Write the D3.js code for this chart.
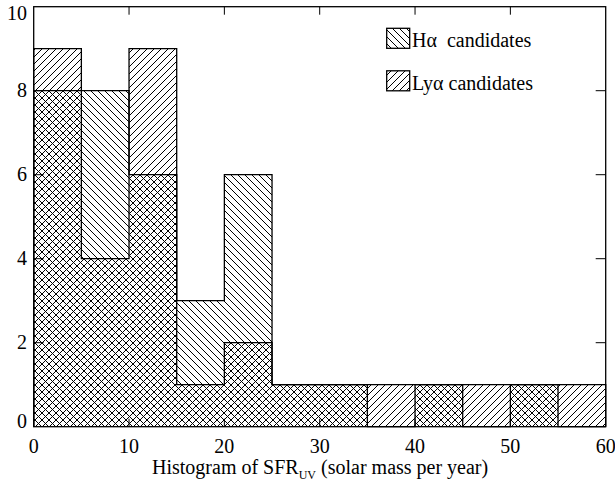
<!DOCTYPE html>
<html>
<head>
<meta charset="utf-8">
<script src="https://cdn.jsdelivr.net/npm/d3@7"></script>
<style>
  body { margin: 0; background: #fff; }
</style>
</head>
<body>
<svg id="chart" width="615" height="481"></svg>
<script>
// bin edges of the histogram (SFR_UV, solar mass per year)
var binEdges = [0, 5, 10, 15, 20, 25, 30, 35, 40, 45, 50, 55, 60];
// counts per bin
var haCounts  = [8, 8, 6, 3, 6, 1, 1, 0, 1, 0, 1, 0];
var lyaCounts = [9, 4, 9, 1, 2, 1, 1, 1, 1, 1, 1, 1];
// tick labels
var xTicks = [0, 10, 20, 30, 40, 50, 60];
var yTicks = [0, 2, 4, 6, 8, 10];
var legendLabels = ["H\u03b1  candidates", "Ly\u03b1 candidates"];

var serif = "'Liberation Serif', 'Times New Roman', serif";

var svg = d3.select("#chart").attr("font-family", serif);
svg.append("rect").attr("width", 615).attr("height", 481).attr("fill", "#fff");

var x = d3.scaleLinear().domain([0, 60]).range([33.7, 605.7]);
var y = d3.scaleLinear().domain([0, 10]).range([426.7, 6.7]);

// hatch patterns
var defs = svg.append("defs");
function hatch(id, d) {
  defs.append("pattern")
    .attr("id", id)
    .attr("patternUnits", "userSpaceOnUse")
    .attr("width", 7).attr("height", 7)
    .append("path")
    .attr("d", d)
    .attr("stroke", "#000")
    .attr("stroke-width", 1)
    .attr("fill", "none");
}
hatch("back", "M0,0 L7,7 M-1,6 L1,8 M6,-1 L8,1");   // \\\  H-alpha
hatch("fwd", "M0,7 L7,0 M-1,1 L1,-1 M6,8 L8,6");    // ///  Ly-alpha

// step outline of a histogram
function stepPoints(counts) {
  var pts = [[0, 0]];
  counts.forEach(function(c, i) {
    pts.push([binEdges[i], c]);
    pts.push([binEdges[i + 1], c]);
  });
  pts.push([binEdges[binEdges.length - 1], 0]);
  return pts;
}
var line = d3.line()
  .x(function(d) { return x(d[0]); })
  .y(function(d) { return y(d[1]); });

var series = [
  { counts: haCounts, pat: "back" },
  { counts: lyaCounts, pat: "fwd" }
];

// fills first
series.forEach(function(s) {
  svg.append("path")
    .attr("d", line(stepPoints(s.counts)) + "Z")
    .attr("fill", "url(#" + s.pat + ")")
    .attr("stroke", "none");
});
// outlines
series.forEach(function(s) {
  svg.append("path")
    .attr("d", line(stepPoints(s.counts)))
    .attr("fill", "none")
    .attr("stroke", "#000")
    .attr("stroke-width", 1.3);
});

// frame
svg.append("rect")
  .attr("x", x(0)).attr("y", y(10))
  .attr("width", x(60) - x(0)).attr("height", y(0) - y(10))
  .attr("fill", "none").attr("stroke", "#000").attr("stroke-width", 1.3);

// inner ticks on all four sides
var ticks = svg.append("g").attr("stroke", "#000").attr("stroke-width", 1);
xTicks.slice(1, -1).forEach(function(v) {
  ticks.append("line").attr("x1", x(v)).attr("x2", x(v)).attr("y1", y(0)).attr("y2", y(0) - 8);
  ticks.append("line").attr("x1", x(v)).attr("x2", x(v)).attr("y1", y(10)).attr("y2", y(10) + 8);
});
yTicks.slice(1, -1).forEach(function(v) {
  ticks.append("line").attr("x1", x(0)).attr("x2", x(0) + 10).attr("y1", y(v)).attr("y2", y(v));
  ticks.append("line").attr("x1", x(60)).attr("x2", x(60) - 10).attr("y1", y(v)).attr("y2", y(v));
});

// tick labels
svg.append("g").selectAll("text").data(xTicks).enter().append("text")
  .attr("x", function(d) { return x(d); })
  .attr("y", 453)
  .attr("text-anchor", "middle")
  .attr("font-size", 20)
  .text(function(d) { return d; });

svg.append("g").selectAll("text").data(yTicks).enter().append("text")
  .attr("x", 27)
  .attr("y", function(d) {
    if (d === 10) return y(d) + 13.5;
    if (d === 0) return y(d) + 1;
    return y(d) + 6.5;
  })
  .attr("text-anchor", "end")
  .attr("font-size", 20)
  .text(function(d) { return d; });

// axis title
var title = svg.append("text")
  .attr("x", 152).attr("y", 474)
  .attr("font-size", 20);
title.append("tspan").text("Histogram of SFR");
title.append("tspan").attr("font-size", 12).attr("dy", 5).text("UV");
title.append("tspan").attr("dy", -5).text(" (solar mass per year)");

// legend
var legend = svg.append("g");
series.forEach(function(s, i) {
  var top = 28.3 + i * 42.5;
  legend.append("rect")
    .attr("x", 386.7).attr("y", top)
    .attr("width", 23).attr("height", 20)
    .attr("fill", "url(#" + s.pat + ")")
    .attr("stroke", "#000").attr("stroke-width", 1.3);
  legend.append("text")
    .attr("x", 412).attr("y", top + 19)
    .attr("font-size", 20)
    .attr("xml:space", "preserve")
    .style("white-space", "pre")
    .text(legendLabels[i]);
});
</script>
</body>
</html>
